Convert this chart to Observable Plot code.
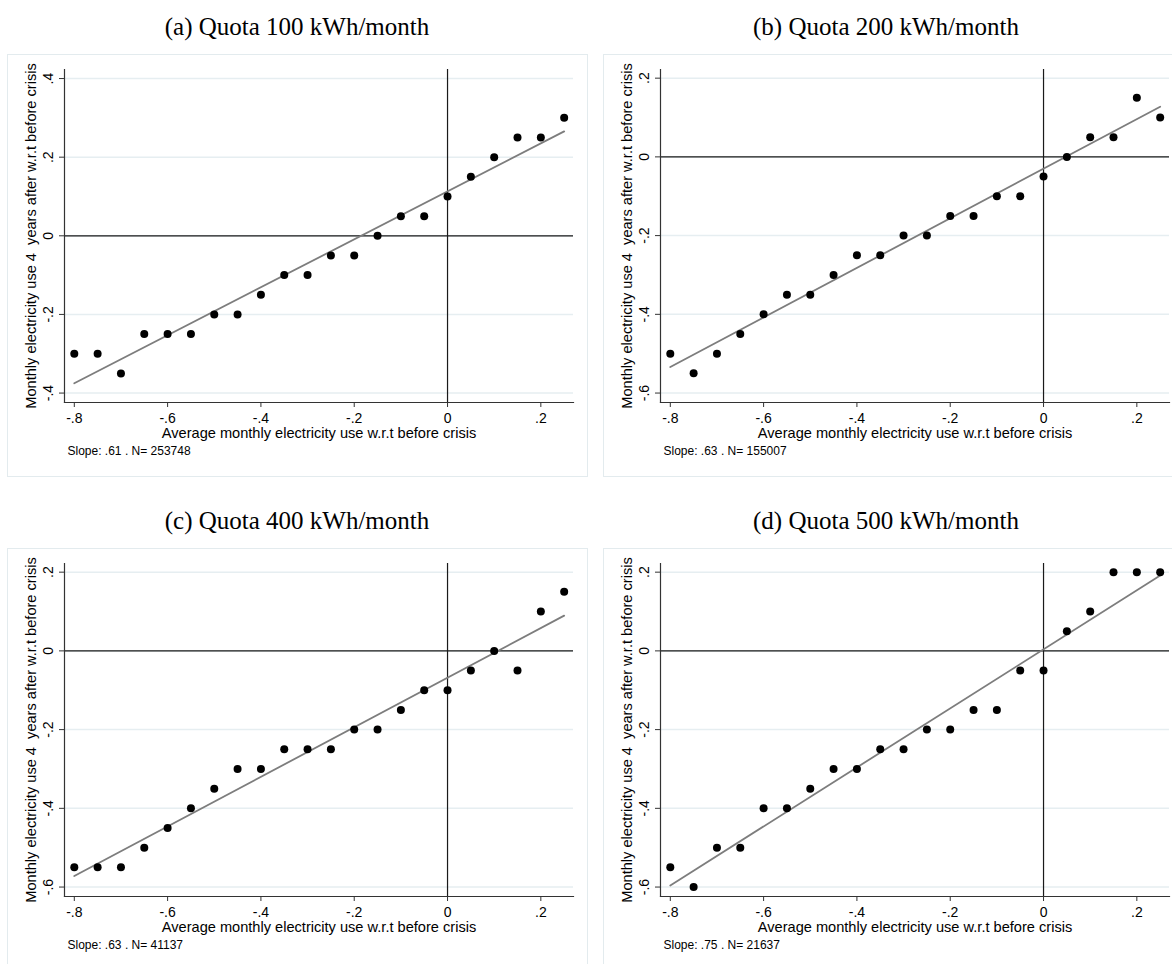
<!DOCTYPE html>
<html>
<head>
<meta charset="utf-8">
<script src="https://cdn.jsdelivr.net/npm/d3@7"></script>
<script src="https://cdn.jsdelivr.net/npm/@observablehq/plot@0.6"></script>
<style>
  html, body { margin: 0; padding: 0; background: #fff; }
  body { width: 1172px; height: 964px; overflow: hidden; position: relative; }
  .cell { position: absolute; width: 581px; height: 423px; }
  .cell svg { position: absolute; left: 0; top: 0; }
  .cell svg text { white-space: pre; }
  .border { position: absolute; left: 0; top: 0; width: 581px; height: 423px; box-sizing: border-box;
            border: 1px solid #e3ebee; pointer-events: none; }
  .title { position: absolute; width: 400px; text-align: center; white-space: nowrap;
           font-family: "Liberation Serif", "Times New Roman", serif; font-size: 25px; line-height: 25px; color: #000; }
</style>
</head>
<body>
<script>
// Bin centres: average monthly use relative to the pre-crisis level
const bins = [-0.80, -0.75, -0.70, -0.65, -0.60, -0.55, -0.50, -0.45, -0.40, -0.35, -0.30,
              -0.25, -0.20, -0.15, -0.10, -0.05, 0.00, 0.05, 0.10, 0.15, 0.20, 0.25];

// Mean use four years later, one value per bin, for each quota group
const quota100 = [-0.30, -0.30, -0.35, -0.25, -0.25, -0.25, -0.20, -0.20, -0.15, -0.10, -0.10,
                  -0.05, -0.05, 0.00, 0.05, 0.05, 0.10, 0.15, 0.20, 0.25, 0.25, 0.30];
const quota200 = [-0.50, -0.55, -0.50, -0.45, -0.40, -0.35, -0.35, -0.30, -0.25, -0.25, -0.20,
                  -0.20, -0.15, -0.15, -0.10, -0.10, -0.05, 0.00, 0.05, 0.05, 0.15, 0.10];
const quota400 = [-0.55, -0.55, -0.55, -0.50, -0.45, -0.40, -0.35, -0.30, -0.30, -0.25, -0.25,
                  -0.25, -0.20, -0.20, -0.15, -0.10, -0.10, -0.05, 0.00, -0.05, 0.10, 0.15];
const quota500 = [-0.55, -0.60, -0.50, -0.50, -0.40, -0.40, -0.35, -0.30, -0.30, -0.25, -0.25,
                  -0.20, -0.20, -0.15, -0.15, -0.05, -0.05, 0.05, 0.10, 0.20, 0.20, 0.20];

// Linear fit for each group and sample sizes
const quotas = [100, 200, 400, 500];
const panelLetters = ["a", "b", "c", "d"];
const slopes = [0.61, 0.63, 0.63, 0.75];
const intercepts = [0.113, -0.030, -0.068, 0.004];
const counts = [253748, 155007, 41137, 21637];

// Tick values
const xTicks = [-0.8, -0.6, -0.4, -0.2, 0, 0.2];
const yTicksHigh = [-0.4, -0.2, 0, 0.2, 0.4];
const yTicksLow = [-0.6, -0.4, -0.2, 0, 0.2];

const xTitle = "Average monthly electricity use w.r.t before crisis";
const yTitle = "Monthly electricity use 4  years after w.r.t before crisis";

// Stata-style numbers: ".4", "-.2", "0"
const fmt = d => String(+(+d).toFixed(2)).replace(/^(-?)0\./, "$1.");

const W = 581, H = 423;
const grid = "#e6eef1";

function panel(values, slope, intercept, n, yDomain, yTicks) {
  const pts = bins.map((x, i) => ({x, y: values[i]}));
  const fitLine = d3.extent(bins).map(x => ({x, y: intercept + slope * x}));
  const note = `Slope: ${fmt(slope)} . N= ${n}`;
  return Plot.plot({
    width: W, height: H,
    marginLeft: 57, marginTop: 15, marginRight: 15, marginBottom: 75,
    style: {fontFamily: "'Liberation Sans', Arial, Helvetica, sans-serif", fontSize: "14px", color: "#000", background: "transparent"},
    x: {domain: [-0.821, 0.27]},
    y: {domain: yDomain},
    marks: [
      Plot.gridY(yTicks, {stroke: grid, strokeOpacity: 1, strokeWidth: 1.5}),
      Plot.ruleY([0], {stroke: "#1a1a1a", strokeWidth: 1.2}),
      Plot.ruleX([0], {stroke: "#1a1a1a", strokeWidth: 1.2}),
      Plot.frame({anchor: "left", stroke: "#333", strokeWidth: 1.2}),
      Plot.frame({anchor: "bottom", stroke: "#333", strokeWidth: 1.2}),
      Plot.axisX(xTicks, {tickSize: 5, tickPadding: 6, tickFormat: fmt, label: null, fontSize: 14, stroke: "#333"}),
      Plot.axisY(yTicks, {tickSize: 5, tickPadding: 7, tickRotate: -90, tickFormat: fmt, label: null, fontSize: 14, stroke: "#333"}),
      Plot.line(fitLine, {x: "x", y: "y", stroke: "#7d7d7d", strokeWidth: 1.8}),
      Plot.dot(pts, {x: "x", y: "y", r: 4, fill: "#000", stroke: "none"}),
      Plot.text([xTitle], {frameAnchor: "bottom", dy: 35.5, fontSize: 14.6, fill: "#000"}),
      Plot.text([yTitle], {frameAnchor: "left", textAnchor: "middle", dx: -33, rotate: -90, fontSize: 14.6, fill: "#000"}),
      Plot.text([note], {frameAnchor: "bottom-left", dx: 3, dy: 52, textAnchor: "start", fontSize: 12, fill: "#000"})
    ]
  });
}

const series = [quota100, quota200, quota400, quota500];
const cells = [
  {left: 7, top: 54, titleTop: 14, titleX: 297},
  {left: 603, top: 54, titleTop: 14, titleX: 886},
  {left: 7, top: 548, titleTop: 508, titleX: 297},
  {left: 603, top: 548, titleTop: 508, titleX: 886}
];

series.forEach((vals, i) => {
  const c = cells[i];
  const title = document.createElement("div");
  title.className = "title";
  title.style.left = (c.titleX - 200) + "px";
  title.style.top = c.titleTop + "px";
  title.textContent = `(${panelLetters[i]}) Quota ${quotas[i]} kWh/month`;
  document.body.appendChild(title);

  const cell = document.createElement("div");
  cell.className = "cell";
  cell.style.left = c.left + "px";
  cell.style.top = c.top + "px";
  const yDomain = i === 0 ? [-0.424, 0.423] : [-0.624, 0.222];
  const yTicks = i === 0 ? yTicksHigh : yTicksLow;
  cell.appendChild(panel(vals, slopes[i], intercepts[i], counts[i], yDomain, yTicks));
  const border = document.createElement("div");
  border.className = "border";
  cell.appendChild(border);
  document.body.appendChild(cell);
});
</script>
</body>
</html>
